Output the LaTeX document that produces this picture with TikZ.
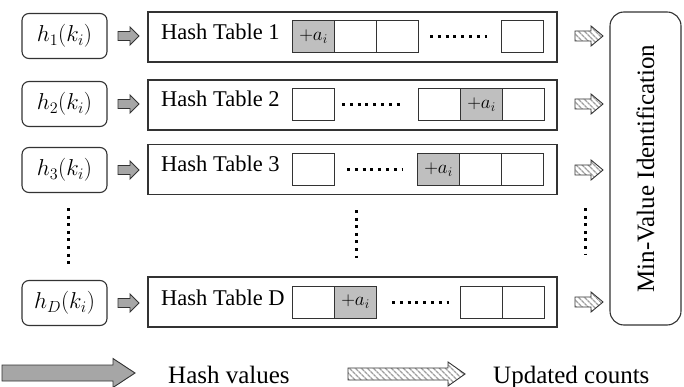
\RequirePackage{fix-cm}
\documentclass[tikz,border=0pt]{standalone}
\usepackage{fontspec}
\setmainfont{Liberation Serif}
\usetikzlibrary{patterns.meta}
\definecolor{cellgray}{HTML}{BFBFBF}
\definecolor{arrgray}{HTML}{A6A6A6}
\definecolor{edge}{HTML}{333333}
\newcommand\blockarr[7]{% style, x start, x end, y centre, shaft half, head half, head length
  \draw[#1] (#2,#4-#5) -- (#3-#7,#4-#5) -- (#3-#7,#4-#6) -- (#3,#4) -- (#3-#7,#4+#6) -- (#3-#7,#4+#5) -- (#2,#4+#5) -- cycle;}
\begin{document}
\begin{tikzpicture}[x=1pt,y=-1pt,
  hbox/.style={draw=edge, line width=1.1pt, rounded corners=7pt, minimum width=85pt, minimum height=45pt, inner sep=0pt, font=\fontsize{23}{26}\selectfont},
  tbl/.style={draw=edge, line width=1.1pt, minimum width=409pt, minimum height=50pt, inner sep=0pt},
  cell/.style={draw=edge, line width=1pt, minimum width=42pt, minimum height=32pt, inner sep=0pt, fill=white, anchor=west, font=\fontsize{19}{20}\selectfont},
  gcell/.style={cell, fill=cellgray},
  tlabel/.style={anchor=base west, inner sep=0pt, font=\fontsize{22.5}{25}\selectfont},
  legtext/.style={anchor=base west, inner sep=0pt, font=\fontsize{25}{28}\selectfont},
  garrow/.style={draw=edge, line width=0.9pt, fill=arrgray, line join=miter},
  harrow/.style={draw=edge, line width=0.9pt, line join=miter, pattern={Lines[angle=-45, distance=4pt, line width=1.5pt]}, pattern color=gray!75},
  hdots/.style={line width=3pt, dash pattern=on 3pt off 4.8pt, black},
  vdots/.style={line width=3pt, dash pattern=on 3pt off 4.6pt, black}]
\useasboundingbox (0,0) rectangle (684,387);

% hash function boxes
\node[hbox] (h1) at (64.5,36) {$h_1(k_i)$};
\node[hbox] (h2) at (64.5,104) {$h_2(k_i)$};
\node[hbox] (h3) at (64.5,170) {$h_3(k_i)$};
\node[hbox] (hD) at (64.5,303) {$h_D(k_i)$};

% hash tables
\node[tbl] (t1) at (352.5,37) {};
\node[tbl] (t2) at (352.5,105) {};
\node[tbl] (t3) at (352.5,169.5) {};
\node[tbl] (tD) at (352.5,302) {};

\node[tlabel] (l1) at (161,40) {Hash Table 1};
\node[tlabel] (l2) at (161,107) {Hash Table 2};
\node[tlabel] (l3) at (161,172) {Hash Table 3};
\node[tlabel] (lD) at (161,305) {Hash Table D};

% table 1 cells
\node[gcell] (c11) at (292,37) {$+a_i$};
\node[cell] (c12) at (334,37) {};
\node[cell] (c13) at (376,37) {};
\node[cell] (c14) at (501,37) {};
\draw[hdots] (430,37) -- (487,37);

% table 2 cells
\node[cell] (c21) at (292,105) {};
\node[cell] (c22) at (418,105) {};
\node[gcell] (c23) at (460,105) {$+a_i$};
\node[cell] (c24) at (502,105) {};
\draw[hdots] (342,105) -- (401,105);

% table 3 cells
\node[cell] (c31) at (292,169.5) {};
\node[gcell] (c32) at (417,169.5) {$+a_i$};
\node[cell] (c33) at (459,169.5) {};
\node[cell] (c34) at (501,169.5) {};
\draw[hdots] (347,169.5) -- (402,169.5);

% table D cells
\node[cell] (cD1) at (292,302) {};
\node[gcell] (cD2) at (334,302) {$+a_i$};
\node[cell] (cD3) at (460,302) {};
\node[cell] (cD4) at (502,302) {};
\draw[hdots] (392,302) -- (449,302);

% vertical dots
\draw[vdots] (68,208) -- (68,264);
\draw[vdots] (356,210) -- (356,258);
\draw[vdots] (585,208) -- (585,254);

% hash value arrows
\blockarr{garrow}{118}{139}{36}{4.5}{9}{9}
\blockarr{garrow}{118}{139}{104}{4.5}{9}{9}
\blockarr{garrow}{118}{139}{170}{4.5}{9}{9}
\blockarr{garrow}{118}{139}{303}{4.5}{9}{9}

% updated count arrows
\blockarr{harrow}{575}{603}{36}{5}{10}{12}
\blockarr{harrow}{575}{603}{104}{5}{10}{12}
\blockarr{harrow}{575}{603}{170}{5}{10}{12}
\blockarr{harrow}{575}{603}{302}{5}{10}{12}

% min-value identification
\node[draw=edge, line width=1.1pt, rounded corners=14pt, minimum width=71pt, minimum height=313pt, inner sep=0pt] (mv) at (645.5,168.5) {};
\node[rotate=90, inner sep=0pt, font=\fontsize{25}{28}\selectfont] (mvt) at (mv.center) {Min-Value Identification};

% legend
\blockarr{garrow}{2}{135}{373}{8}{14.5}{22}
\node[legtext] (lg1) at (168,383) {Hash values};
\blockarr{harrow}{348}{465}{374}{6}{12}{17}
\node[legtext] (lg2) at (493,383) {Updated counts};
\end{tikzpicture}
\end{document}
